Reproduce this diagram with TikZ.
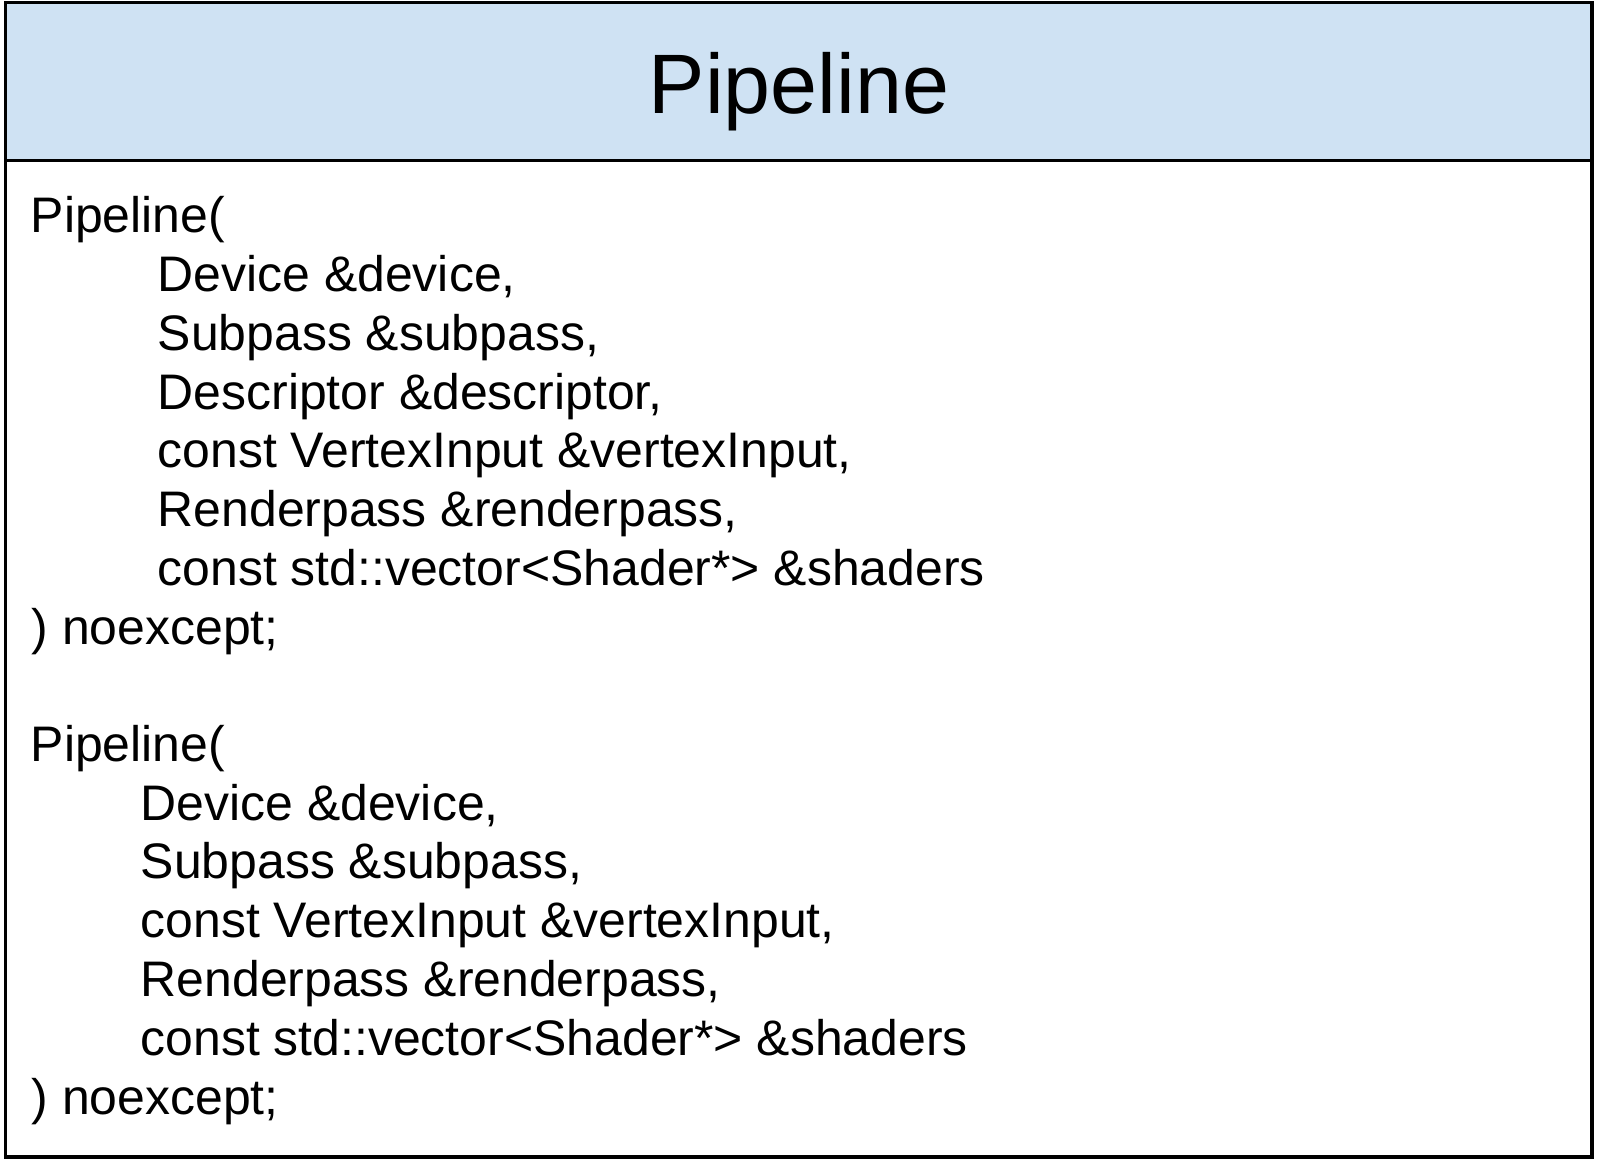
\documentclass[tikz,border=0pt]{standalone}
\usepackage{fontspec}
\setmainfont{Liberation Sans}
\definecolor{headblue}{HTML}{CFE2F3}
\begin{document}
\begin{tikzpicture}[x=0.01cm,y=-0.01cm,
  code/.style={anchor=base west,inner sep=0pt,font=\fontsize{14.2}{17}\selectfont},
  frame/.style={draw=black,line width=0.9pt}]
\useasboundingbox (0,0) rectangle (1600,1172);
% class box
\fill[headblue] (5.5,2.5) rectangle (1592,160.5);
\draw[frame] (5.5,2.5) rectangle (1592,1157);
\draw[frame] (5.5,160.5) -- (1592,160.5);
\node[anchor=base,inner sep=0pt,font=\fontsize{24}{28.8}\selectfont] (title) at (799,113) {Pipeline};
% first constructor
\node[code] (a0) at (30,232.7) {Pipeline(};
\foreach \t [count=\i] in {{Device \&device,},{Subpass \&subpass,},{Descriptor \&descriptor,},
  {const VertexInput \&vertexInput,},{Renderpass \&renderpass,},{const std::vector<Shader*> \&shaders}}
  \node[code] (a\i) at (157,232.7+58.8*\i) {\t};
\node[code] (a7) at (31,644.3) {) noexcept;};
% second constructor
\node[code] (b0) at (30,761.2) {Pipeline(};
\foreach \t [count=\i] in {{Device \&device,},{Subpass \&subpass,},
  {const VertexInput \&vertexInput,},{Renderpass \&renderpass,},{const std::vector<Shader*> \&shaders}}
  \node[code] (b\i) at (140,761.2+58.8*\i) {\t};
\node[code] (b6) at (31,1114) {) noexcept;};
\end{tikzpicture}
\end{document}
